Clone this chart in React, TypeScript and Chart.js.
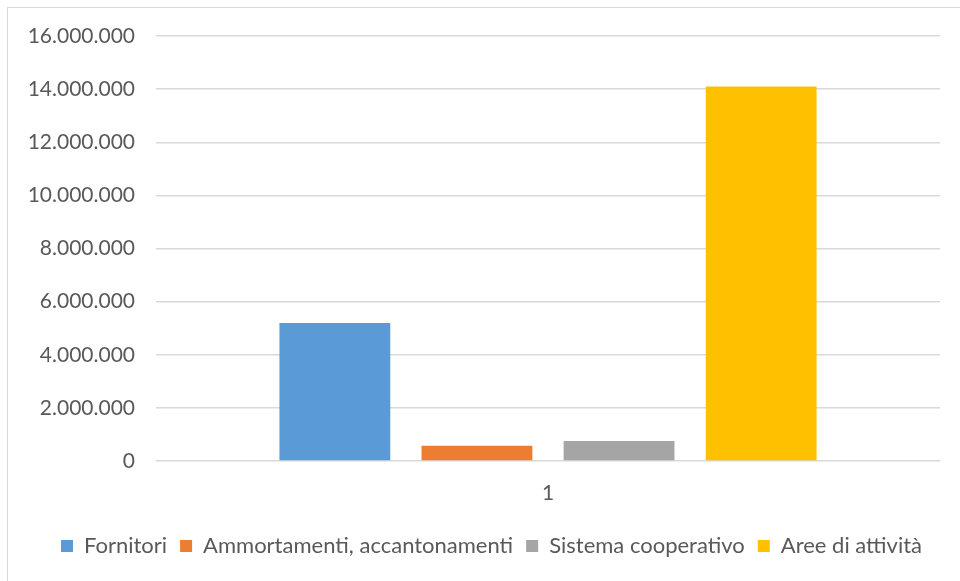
import React, { useEffect, useRef } from "react";
import { Chart, registerables } from "chart.js";

Chart.register(...registerables);

const categories = ["1"];
const seriesNames = ["Fornitori", "Ammortamenti, accantonamenti", "Sistema cooperativo", "Aree di attività"];
const fornitori = [5200000];
const ammortamenti = [570000];
const sistemaCooperativo = [750000];
const areeAttivita = [14100000];
const seriesColors = ["#5B9BD5", "#ED7D31", "#A5A5A5", "#FFC000"];
const yMin = 0;
const yMax = 16000000;
const yStep = 2000000;

const fmt = (v: number) => String(Math.round(v)).replace(/\B(?=(\d{3})+(?!\d))/g, ".");

const FONT = "Lato, 'Open Sans', sans-serif";
const TEXT = "#595959";

export default function App() {
  const ref = useRef<HTMLCanvasElement | null>(null);
  useEffect(() => {
    if (!ref.current) return;
    const values = [fornitori, ammortamenti, sistemaCooperativo, areeAttivita];
    const chart = new Chart(ref.current, {
      type: "bar",
      data: {
        labels: categories,
        datasets: seriesNames.map((name, i) => ({
          label: name,
          data: values[i],
          backgroundColor: seriesColors[i],
          borderWidth: 0,
          categoryPercentage: 0.725,
          barPercentage: 0.78,
          yAxisID: "y",
        })),
      },
      options: {
        animation: false,
        responsive: false,
        maintainAspectRatio: false,
        layout: { padding: { left: 0, right: -23, top: 36, bottom: 14 } },
        plugins: {
          tooltip: { enabled: false },
          legend: {
            position: "bottom",
            labels: {
              boxWidth: 12,
              boxHeight: 12,
              padding: 13,
              color: TEXT,
              font: { family: FONT, size: 22 },
            },
          },
        },
        scales: {
          x: {
            afterFit: (s: any) => { s.height = 61; },
            grid: { display: false, drawTicks: false },
            border: { display: false },
            ticks: { color: TEXT, font: { family: FONT, size: 21 }, padding: 20 },
          },
          y: {
            min: yMin,
            max: yMax,
            afterFit: (s: any) => { s.width = 156; s.paddingTop = 0; s.paddingBottom = 0; },
            grid: { color: "#d9d9d9", lineWidth: 1.5, drawTicks: false },
            border: { display: false },
            ticks: {
              stepSize: yStep,
              color: TEXT,
              padding: 21,
              font: { family: FONT, size: 21 },
              callback: (v: any) => fmt(Number(v)),
            },
          },
          yRight: {
            position: "right",
            min: 0,
            max: 1,
            afterFit: (s: any) => { s.width = 43; s.paddingTop = 0; s.paddingBottom = 0; },
            grid: { display: false, drawTicks: false },
            border: { display: false },
            ticks: { display: false },
          },
        },
      },
    });
    return () => chart.destroy();
  }, []);
  return (
    <div style={{ position: "fixed", left: 0, top: 0, width: 960, height: 581, overflow: "hidden", background: "#fff" }}>
      <div style={{ position: "absolute", left: 7, top: 7, width: 980, height: 600, border: "1.5px solid #d9d9d9" }} />
      <canvas ref={ref} width={960} height={581} style={{ position: "absolute", left: 0, top: 0, width: 960, height: 581 }} />
    </div>
  );
}
